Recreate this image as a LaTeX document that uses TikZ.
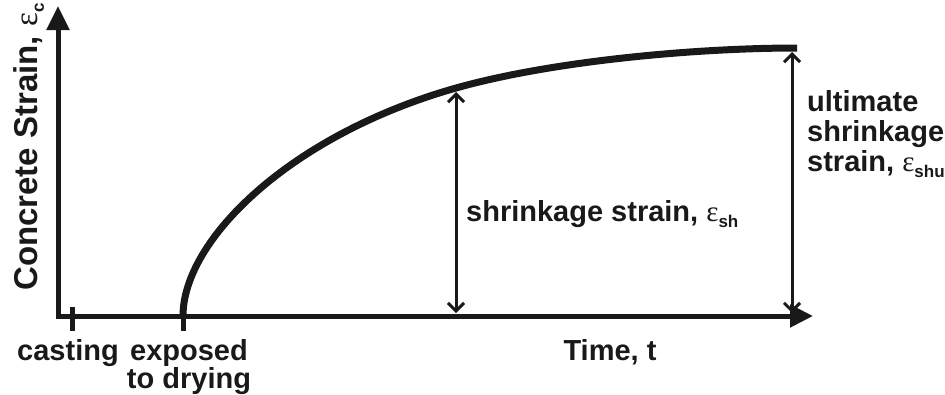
\documentclass[tikz,border=0pt]{standalone}
\usepackage{fontspec}
\setmainfont{Liberation Sans}
\newfontfamily\grkfont{Liberation Serif}
\usepackage{tikz}
\usetikzlibrary{positioning, arrows.meta}
% strain symbol with bold subscript
\newcommand{\strainsym}[1]{{\grkfont\mdseries ε}\raisebox{-0.4ex}{\fontsize{17}{18}\selectfont\bfseries #1}}
\tikzset{
  lbl/.style={font=\fontsize{29}{28}\selectfont\bfseries, inner sep=0pt, text=black!90},
  axis/.style={line width=5pt, {Triangle[length=24pt,width=22pt]}-{Triangle[length=23pt,width=22pt]}},
  tick/.style={line width=5pt},
  curve/.style={line width=7pt},
  dim/.style={line width=3pt, {Straight Barb[length=8pt,width=16pt]}-{Straight Barb[length=8pt,width=16pt]}},
}

\begin{document}
\begin{tikzpicture}[x=1pt, y=-1pt, black!90]
  \useasboundingbox (0,0) rectangle (945,394);
  % axes
  \coordinate (origin) at (58,316);
  \coordinate (ytip) at (58,6);
  \coordinate (xtip) at (813,316);
  \draw[axis] (ytip) -- (origin) -- (xtip);
  % ticks
  \coordinate (cast) at (72,316);
  \coordinate (dry) at (183,316);
  \draw[tick] (cast) -- ++(0,15) (cast) -- ++(0,-9);
  \draw[tick] (dry) -- ++(0,15);
  % shrinkage curve
  \coordinate (sh) at (456,88);
  \coordinate (shu) at (797,48);
  \draw[curve] (dry) .. controls (183,240) and (290,135) .. (sh)
                     .. controls (556,60) and (700,48) .. (shu);
  % strain dimensions
  \coordinate (shtop) at (456,92);
  \coordinate (shbot) at (456,313);
  \coordinate (shutop) at (792,52);
  \coordinate (shubot) at (792,313);
  \draw[dim] (shtop) -- (shbot);
  \draw[dim] (shutop) -- (shubot);
  % labels
  \node[lbl, font=\fontsize{33}{34}\selectfont\bfseries, rotate=90, anchor=base] (ylab) at (37,147) {Concrete Strain, \strainsym{c}};
  \node[lbl, anchor=north] (castlab) at (68,339) {casting};
  \node[lbl, anchor=north, align=center] (drylab) at (189,339) {exposed\\to drying};
  \node[lbl, anchor=base] (xlab) at (610,360) {Time, t};
  \node[lbl, anchor=west] (shlab) at (466,214) {shrinkage strain, \strainsym{sh}};
  \node[lbl, font=\fontsize{29}{30}\selectfont\bfseries, anchor=north west, align=left] (shulab) at (807,90) {ultimate\\shrinkage\\strain, \strainsym{shu}};
\end{tikzpicture}
\end{document}
